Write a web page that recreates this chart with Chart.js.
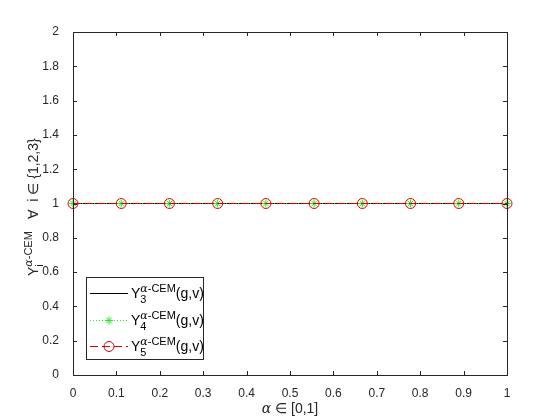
<!DOCTYPE html>
<html>
<head>
<meta charset="utf-8">
<script src="https://cdn.jsdelivr.net/npm/chart.js@4.4.0/dist/chart.umd.min.js"></script>
<style>
  html, body { margin: 0; padding: 0; background: #fff; }
  #wrap { width: 560px; height: 420px; }
</style>
</head>
<body>
<div id="wrap"><canvas id="chart" width="560" height="420"></canvas></div>
<script>
// alpha values (10 points on [0,1])
const alphas = [0, 1/9, 2/9, 3/9, 4/9, 5/9, 6/9, 7/9, 8/9, 1];
const y3 = [1, 1, 1, 1, 1, 1, 1, 1, 1, 1];
const y4 = [1, 1, 1, 1, 1, 1, 1, 1, 1, 1];
const y5 = [1, 1, 1, 1, 1, 1, 1, 1, 1, 1];
const xTicks = [0, 0.1, 0.2, 0.3, 0.4, 0.5, 0.6, 0.7, 0.8, 0.9, 1];
const yTicks = [0, 0.2, 0.4, 0.6, 0.8, 1, 1.2, 1.4, 1.6, 1.8, 2];
const legendSubs = ['3', '4', '5'];

const FONT = '"Liberation Sans", Arial, sans-serif';
const RED = '#e00000';
const GREEN = '#22ee22';

function toPoints(ys) {
    return alphas.map((a, i) => ({ x: a, y: ys[i] }));
}

// draws Y with superscript / subscript, returns end x
function drawYsym(ctx, x, y, sub, size) {
    ctx.font = size + 'px ' + FONT;
    ctx.fillText('Y', x, y);
    let w = ctx.measureText('Y').width;
    let sx = x + w;
    ctx.font = 'italic ' + (size - 3) + 'px "DejaVu Serif", serif';
    ctx.fillText('\u03b1', sx, y - size * 0.45);
    let aw = ctx.measureText('\u03b1').width;
    ctx.font = (size - 3) + 'px ' + FONT;
    ctx.fillText('-CEM', sx + aw, y - size * 0.45);
    let supEnd = sx + aw + ctx.measureText('-CEM').width;
    ctx.fillText(sub, sx, y + size * 0.35);
    return supEnd;
}

const matlabLook = {
    id: 'matlabLook',
    afterDraw(chart) {
        const ctx = chart.ctx;
        const a = chart.chartArea;
        const xs = chart.scales.x, ys = chart.scales.y;
        ctx.save();
        ctx.strokeStyle = '#262626';
        ctx.lineWidth = 1;
        ctx.strokeRect(a.left + 0.5, a.top + 0.5, a.right - a.left, a.bottom - a.top);
        // inward ticks
        ctx.beginPath();
        xTicks.forEach(v => {
            const px = Math.round(xs.getPixelForValue(v)) + 0.5;
            ctx.moveTo(px, a.bottom); ctx.lineTo(px, a.bottom - 4);
            ctx.moveTo(px, a.top); ctx.lineTo(px, a.top + 4);
        });
        yTicks.forEach(v => {
            const py = Math.round(ys.getPixelForValue(v)) + 0.5;
            ctx.moveTo(a.left, py); ctx.lineTo(a.left + 4, py);
            ctx.moveTo(a.right, py); ctx.lineTo(a.right - 4, py);
        });
        ctx.stroke();

        // x axis title
        ctx.fillStyle = '#262626';
        ctx.textBaseline = 'alphabetic';
        const cx = (a.left + a.right) / 2;
        ctx.font = 'italic 14px "DejaVu Serif", serif';
        const aw = ctx.measureText('\u03b1').width;
        ctx.font = '14px ' + FONT;
        const rest = ' \u2208 [0,1]';
        const rw = ctx.measureText(rest).width;
        let sx = cx - (aw + rw) / 2;
        ctx.font = 'italic 14px "DejaVu Serif", serif';
        ctx.fillText('\u03b1', sx, 413);
        ctx.font = '14px ' + FONT;
        ctx.fillText(rest, sx + aw, 413);

        // y axis title (rotated)
        ctx.save();
        ctx.translate(38, 276);
        ctx.rotate(-Math.PI / 2);
        let end = drawYsym(ctx, 0, 0, 'i', 14);
        ctx.font = '14px ' + FONT;
        ctx.fillText('   \u2200  i \u2208 {1,2,3}', end, 0);
        ctx.restore();

        // legend
        const lx = 86, ly = 277, lw = 117, lh = 82;
        ctx.fillStyle = '#fff';
        ctx.fillRect(lx, ly, lw, lh);
        ctx.strokeStyle = '#262626';
        ctx.strokeRect(lx + 0.5, ly + 0.5, lw, lh);
        const rows = [293, 320, 346];
        const sets = chart.data.datasets;
        rows.forEach((ry, i) => {
            const ds = sets[i];
            ctx.save();
            ctx.strokeStyle = ds.borderColor;
            ctx.lineWidth = 1;
            ctx.setLineDash(ds.borderDash || []);
            ctx.beginPath();
            ctx.moveTo(90, ry + 0.5); ctx.lineTo(128, ry + 0.5);
            ctx.stroke();
            ctx.setLineDash([]);
            if (ds.pointStyle && ds.pointRadius > 0) {
                ctx.fillStyle = 'rgba(0,0,0,0)';
                ctx.strokeStyle = ds.pointBorderColor;
                ctx.lineWidth = 1;
                Chart.helpers.drawPoint(ctx, {
                    pointStyle: ds.pointStyle, radius: ds.pointRadius,
                    borderWidth: 1, rotation: 0
                }, 109, ry + 0.5);
            }
            ctx.restore();
            ctx.fillStyle = '#000';
            let e = drawYsym(ctx, 131, ry + 5, legendSubs[i], 14);
            ctx.font = '14px ' + FONT;
            ctx.fillText('(g,v)', e, ry + 5);
        });
        ctx.restore();
    }
};

new Chart(document.getElementById('chart'), {
    type: 'line',
    data: {
        datasets: [
            {
                label: 'Y3',
                data: toPoints(y3),
                borderColor: '#000',
                borderWidth: 1,
                pointRadius: 0,
                order: 2
            },
            {
                label: 'Y4',
                data: toPoints(y4),
                borderColor: GREEN,
                borderWidth: 1,
                borderDash: [1, 2],
                pointStyle: 'star',
                pointRadius: 4,
                pointBorderColor: GREEN,
                pointBorderWidth: 1,
                order: 1
            },
            {
                label: 'Y5',
                data: toPoints(y5),
                borderColor: RED,
                borderWidth: 1,
                borderDash: [8, 4],
                pointStyle: 'circle',
                pointRadius: 5,
                pointBorderColor: RED,
                pointBackgroundColor: 'rgba(0,0,0,0)',
                pointBorderWidth: 1,
                order: 0
            }
        ]
    },
    options: {
        responsive: false,
        animation: false,
        clip: false,
        layout: { padding: { top: 32, right: 53, left: 0, bottom: 0 } },
        plugins: { legend: { display: false }, tooltip: { enabled: false } },
        scales: {
            x: {
                type: 'linear',
                min: 0, max: 1,
                afterFit: s => { s.height = 45; },
                afterBuildTicks: s => { s.ticks = xTicks.map(v => ({ value: v })); },
                grid: { display: false },
                border: { display: false },
                ticks: {
                    color: '#262626',
                    font: { family: FONT, size: 12 },
                    padding: 3,
                    maxRotation: 0,
                    callback: v => String(v)
                }
            },
            y: {
                min: 0, max: 2,
                afterFit: s => { s.width = 73; },
                afterBuildTicks: s => { s.ticks = yTicks.map(v => ({ value: v })); },
                grid: { display: false },
                border: { display: false },
                ticks: {
                    color: '#262626',
                    font: { family: FONT, size: 12 },
                    padding: 6,
                    callback: v => String(Math.round(v * 10) / 10)
                }
            }
        }
    },
    plugins: [matlabLook]
});
</script>
</body>
</html>
